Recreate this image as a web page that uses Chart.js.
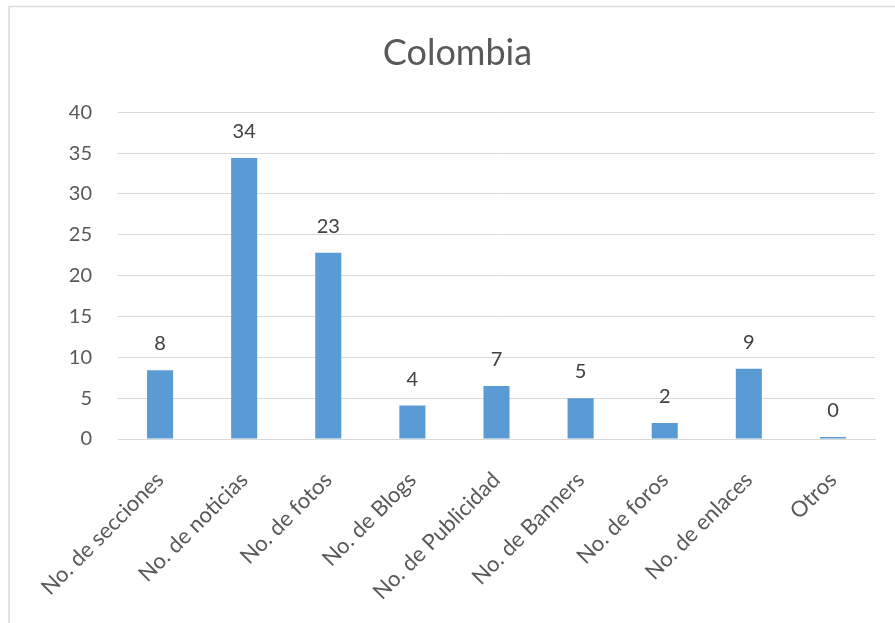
<!DOCTYPE html>
<html>
<head>
<meta charset="utf-8">
<script src="https://cdn.jsdelivr.net/npm/chart.js@4/dist/chart.umd.min.js"></script>
<style>
  html, body { margin: 0; padding: 0; background: #fff; }
  #wrap { width: 895px; height: 623px; position: relative; }
</style>
</head>
<body>
<div id="wrap"><canvas id="chart" width="895" height="623"></canvas></div>
<script>
/*
* Data - Colombia
*/
var categories = ["No. de secciones", "No. de noticias", "No. de fotos", "No. de Blogs",
	"No. de Publicidad", "No. de Banners", "No. de foros", "No. de enlaces", "Otros"]
// bar heights
var values = [8.4, 34.4, 22.8, 4.1, 6.5, 5.0, 1.95, 8.6, 0.25]
// numbers printed above the bars
var valueLabels = ["8", "34", "23", "4", "7", "5", "2", "9", "0"]
var yTicks = [0, 5, 10, 15, 20, 25, 30, 35, 40]

var textColor = '#595959'
var fontFamily = 'Lato, "Open Sans", sans-serif'

// light frame round the chart (top and left edges only are in view)
var framePlugin = {
	id: 'frame',
	beforeDraw: function(chart) {
		var ctx = chart.ctx
		ctx.save()
		ctx.strokeStyle = '#d9d9d9'
		ctx.lineWidth = 1.5
		ctx.beginPath()
		ctx.moveTo(9, 623)
		ctx.lineTo(9, 6.5)
		ctx.lineTo(895, 6.5)
		ctx.stroke()
		ctx.restore()
	}
}

// value labels above each bar
var valueLabelPlugin = {
	id: 'valueLabels',
	afterDatasetsDraw: function(chart) {
		var ctx = chart.ctx
		var meta = chart.getDatasetMeta(0)
		ctx.save()
		ctx.font = '20px ' + fontFamily
		ctx.fillStyle = '#404040'
		ctx.textAlign = 'center'
		ctx.textBaseline = 'alphabetic'
		meta.data.forEach(function(bar, i) {
			ctx.fillText(valueLabels[i], bar.x, bar.y - 20)
		})
		ctx.restore()
	}
}

var chart = new Chart(document.getElementById('chart'), {
	type: 'bar',
	data: {
		labels: categories,
		datasets: [{
			data: values,
			backgroundColor: '#5b9bd5',
			barPercentage: 0.31,
			categoryPercentage: 1
		}]
	},
	options: {
		responsive: false,
		animation: false,
		layout: { padding: { top: 0, left: 20, right: 0, bottom: 0 } },
		plugins: {
			legend: { display: false },
			tooltip: { enabled: false },
			title: {
				display: true,
				text: 'Colombia',
				color: textColor,
				font: { family: fontFamily, size: 36, weight: 'normal' },
				padding: { top: 32, bottom: 37 }
			}
		},
		scales: {
			x: {
				grid: { display: false },
				border: { display: true, color: '#d9d9d9', width: 1 },
				ticks: {
					color: textColor,
					font: { family: fontFamily, size: 22 },
					minRotation: 45,
					maxRotation: 45,
					autoSkip: false,
					padding: 20
				},
				afterFit: function(s) { s.height = 184 }
			},
			y: {
				min: 0,
				max: 40,
				afterBuildTicks: function(s) { s.ticks = yTicks.map(function(v) { return {value: v} }) },
				grid: { color: '#d9d9d9', drawTicks: false },
				border: { display: false },
				ticks: {
					color: textColor,
					font: { family: fontFamily, size: 20 },
					padding: 26
				},
				afterFit: function(s) { s.width = 98 }
			},
			// empty right margin so the plot ends where the original does
			yRight: {
				position: 'right',
				display: true,
				grid: { display: false },
				border: { display: false },
				ticks: { display: false },
				afterFit: function(s) { s.width = 20 }
			}
		}
	},
	plugins: [framePlugin, valueLabelPlugin]
})
</script>
</body>
</html>
